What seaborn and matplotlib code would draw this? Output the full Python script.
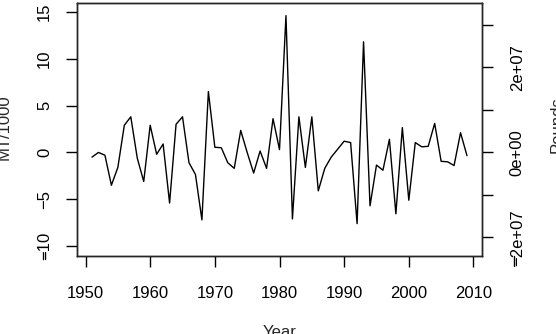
import numpy as np
import pandas as pd
import seaborn as sns
import matplotlib.pyplot as plt
from matplotlib.lines import Line2D

# Year-to-year change in catch.
years = list(range(1951, 2010))
mt_1000 = [
    -0.5, 0.0, -0.3, -3.5, -1.6, 2.9, 3.8, -0.6, -3.1, 2.9,
    -0.2, 0.9, -5.4, 3.0, 3.8, -1.1, -2.35, -7.2, 6.5, 0.55,
    0.5, -1.1, -1.7, 2.35, 0.0, -2.2, 0.15, -1.7, 3.6, 0.3,
    14.6, -7.1, 3.8, -1.6, 3.8, -4.1, -1.7, -0.5, 0.35, 1.2,
    1.05, -7.6, 11.8, -5.7, -1.35, -1.9, 1.4, -6.55, 2.65, -5.1,
    1.05, 0.6, 0.65, 3.1, -0.95, -1.0, -1.4, 2.1, -0.35,
]
x_ticks = [1950, 1960, 1970, 1980, 1990, 2000, 2010]
y_ticks = [-10, -5, 0, 5, 10, 15]
pound_ticks = [-2e7, -1e7, 0, 1e7, 2e7, 3e7]
pound_labels = ["\u22122e+07", "", "0e+00", "", "2e+07", ""]
lb_per_mt = 2204.62

df = pd.DataFrame({"Year": years, "MT": mt_1000})

sns.set_style("ticks")
plt.rcParams["font.family"] = ["Liberation Sans", "DejaVu Sans"]
plt.rcParams["font.size"] = 12

W, H = 556, 334
fig = plt.figure(figsize=(W / 100, H / 100), dpi=100)
ax = fig.add_axes([77 / W, 1 - 255.5 / H, 405 / W, 253 / H])

sns.lineplot(data=df, x="Year", y="MT", color="black", linewidth=1.0, ax=ax)

ax.set_xlim(1948.68, 2011.32)
ax.set_ylim(-11, 16)
ax.set_xticks(x_ticks)
ax.set_yticks(y_ticks)
ax.set_xlabel("")
ax.set_ylabel("")
for s in ax.spines.values():
    s.set_linewidth(1.0)
    s.set_color("black")
ax.tick_params(axis="x", length=8, width=1.0, pad=14, labelsize=12, colors="black")
ax.tick_params(axis="y", length=8, width=1.0, pad=10, labelsize=12, colors="black")
for lab in ax.get_yticklabels():
    lab.set_rotation(90)
    lab.set_va("center")

# right axis in pounds
ax2 = ax.twinx()
lo, hi = ax.get_ylim()
ax2.set_ylim(lo * 1000 * lb_per_mt, hi * 1000 * lb_per_mt)
ax2.set_yticks(pound_ticks)
ax2.set_yticklabels(pound_labels, rotation=90, va="center")
ax2.tick_params(axis="y", length=8, width=1.0, pad=12, labelsize=12, colors="black")
for s in ax2.spines.values():
    s.set_linewidth(1.0)

# axis titles (partly cut off at the figure edge, as in the reference)
fig.text(4.5 / W, 1 - 127 / H, "MT/1000", rotation=90, ha="center", va="center", fontsize=12)
fig.text(557 / W, 1 - 125 / H, "Pounds", rotation=90, ha="center", va="center", fontsize=12)
fig.text(279.5 / W, 1 - 337 / H, "Year", ha="center", va="baseline", fontsize=12)

# stray tick marks left over from an extra axis in the original plot
fig.add_artist(Line2D([514 / W, 514 / W], [1 - 256 / H, 1 - 266 / H], color="black", lw=1.0))
fig.add_artist(Line2D([45 / W, 45 / W], [1 - 252 / H, 1 - 259 / H], color="black", lw=1.0))

fig.savefig("out.png", dpi=100)
